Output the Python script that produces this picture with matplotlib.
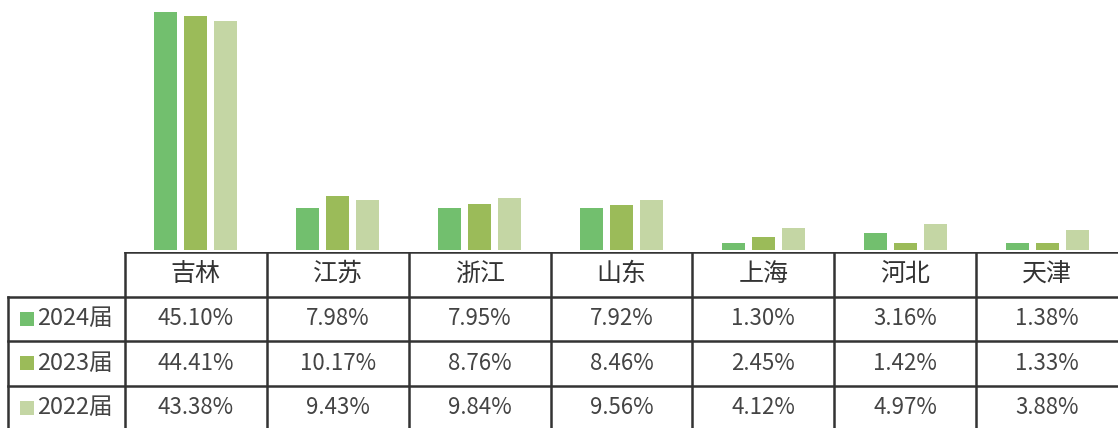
import numpy as np
import matplotlib
matplotlib.use('Agg')
import matplotlib.pyplot as plt
from matplotlib.patches import Rectangle

plt.rcParams['font.family'] = ['Noto Sans CJK SC', 'DejaVu Sans']

# data
provinces = ['吉林', '江苏', '浙江', '山东', '上海', '河北', '天津']
series_names = ['2024届', '2023届', '2022届']
v2024 = [45.10, 7.98, 7.95, 7.92, 1.30, 3.16, 1.38]
v2023 = [44.41, 10.17, 8.76, 8.46, 2.45, 1.42, 1.33]
v2022 = [43.38, 9.43, 9.84, 9.56, 4.12, 4.97, 3.88]
colors = ['#72bf6e', '#9bbb59', '#c4d6a4']

W, H = 1118, 428
fig = plt.figure(figsize=(W / 100, H / 100), dpi=100)

# bar area
col_w = 142.0
left_px = 125
base_px = 250
ax = fig.add_axes([left_px / W, (H - base_px) / H, (W - left_px) / W, base_px / H])
x = np.arange(len(provinces))
bw = 23 / col_w
step = 30 / col_w
for i, vals in enumerate([v2024, v2023, v2022]):
    ax.bar(x + (i - 1) * step, vals, width=bw, color=colors[i], linewidth=0)
ax.set_xlim(-0.5, len(provinces) - 0.5)
ax.set_ylim(0, 45.1 * 250 / 238)
ax.axis('off')

# table area
top_px = 252
tab = fig.add_axes([0, 0, 1, (H - top_px) / H])
x_left = -0.5 - left_px / col_w
tab.set_xlim(x_left, len(provinces) - 0.5)
row_h = 44.5
tab.set_ylim((H - top_px) / row_h, 0)
tab.axis('off')

line_kw = dict(color='#333333', lw=1.8, solid_capstyle='projecting')
label_left = -0.5 - 117 / col_w
nrow = len(series_names) + 1
# horizontal lines
tab.plot([-0.5, len(provinces) - 0.5], [0, 0], **line_kw)
for r in range(1, nrow):
    tab.plot([label_left, len(provinces) - 0.5], [r, r], **line_kw)
# vertical lines
tab.plot([label_left, label_left], [1, 5], **line_kw)
for c in range(len(provinces)):
    tab.plot([c - 0.5, c - 0.5], [0, 5], **line_kw)

# header
for c, name in enumerate(provinces):
    tab.text(c, 0.5, name, ha='center', va='center', fontsize=18, color='#333333')

# rows
for r, (name, vals) in enumerate(zip(series_names, [v2024, v2023, v2022])):
    y = r + 1.5
    tab.add_patch(Rectangle((label_left + 12 / col_w, y - 0.16), 14 / col_w, 0.32,
                            facecolor=colors[r], edgecolor='none'))
    tab.text(label_left + 29 / col_w, y, name, ha='left', va='center',
             fontsize=17, color='#444444')
    for c, v in enumerate(vals):
        tab.text(c, y, f'{v:.2f}%', ha='center', va='center', fontsize=16, color='#444444')

fig.savefig('out.png', dpi=100)
